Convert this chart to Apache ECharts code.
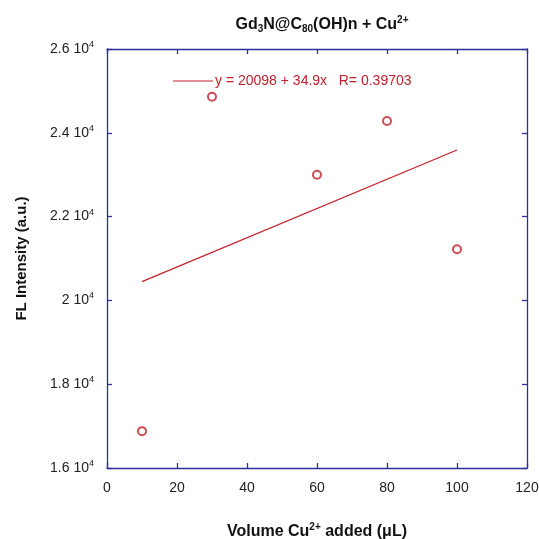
<!DOCTYPE html>
<html>
<head>
<meta charset="utf-8">
<script src="https://cdn.jsdelivr.net/npm/echarts@6/dist/echarts.min.js"></script>
<style>
  html, body { margin: 0; padding: 0; background: #fff; }
  #main { width: 539px; height: 539px; }
</style>
</head>
<body>
<div id="main"></div>
<script>
// measured points
var volume = [10, 30, 60, 80, 100];
var intensity = [16880, 24860, 23000, 24280, 21220];
// fit line end points (as drawn)
var fitX = [10, 100];
var fitY = [20447, 23588];
var fitLabel = 'y = 20098 + 34.9x   R= 0.39703';

var red = '#c4202a';
var blue = '#2e2e9c';

var myChart = echarts.init(document.getElementById('main'));

var axisCommon = {
    axisLine: { show: true, onZero: false, lineStyle: { color: blue, width: 1.3 } },
    axisTick: { show: true, inside: true, length: 5, lineStyle: { color: blue, width: 1.3 } },
    splitLine: { show: false }
};

var option = {
    backgroundColor: '#fff',
    title: {
        text: 'Gd{sub|3}N@C{sub|80}(OH)n + Cu{sup|2+}',
        left: 317,
        textAlign: 'center',
        top: 10,
        textStyle: {
            fontFamily: 'Liberation Sans',
            fontSize: 16,
            fontWeight: 'bold',
            color: '#111',
            rich: {
                sub: { fontSize: 10, fontWeight: 'bold', verticalAlign: 'bottom', padding: [9, 0, 0, 0], fontFamily: 'Liberation Sans' },
                sup: { fontSize: 10, fontWeight: 'bold', verticalAlign: 'top', padding: [0, 0, 9, 0], fontFamily: 'Liberation Sans' }
            }
        }
    },
    legend: {
        left: 168,
        top: 69,
        icon: 'rect',
        itemWidth: 40,
        itemHeight: 1,
        itemGap: 0,
        data: [fitLabel],
        textStyle: { color: red, fontFamily: 'Liberation Sans', fontSize: 14, padding: [0, 0, 0, -3] }
    },
    grid: { left: 107, right: 12, top: 49, bottom: 71, outerBoundsMode: 'none' },
    xAxis: [
        Object.assign({
            type: 'value', min: 0, max: 120, interval: 20,
            name: 'Volume Cu{sup|2+} added (\u03bcL)',
            nameLocation: 'middle',
            nameGap: 54,
            nameTextStyle: {
                fontFamily: 'Liberation Sans', fontSize: 16, fontWeight: 'bold', color: '#111',
                rich: { sup: { fontSize: 10, fontWeight: 'bold', verticalAlign: 'top', padding: [0, 0, 9, 0] } }
            },
            axisLabel: { margin: 13, fontFamily: 'Liberation Sans', fontSize: 14, color: '#222' }
        }, axisCommon),
        Object.assign({
            type: 'value', min: 0, max: 120, interval: 20, position: 'top',
            axisLabel: { show: false }
        }, axisCommon)
    ],
    yAxis: [
        Object.assign({
            type: 'value', min: 16000, max: 26000, interval: 2000,
            name: 'FL Intensity (a.u.)',
            nameLocation: 'middle',
            nameGap: 78,
            nameTextStyle: { fontFamily: 'Liberation Sans', fontSize: 15, fontWeight: 'bold', color: '#111' },
            axisLabel: {
                margin: 13,
                fontFamily: 'Liberation Sans', fontSize: 14, color: '#222',
                formatter: function (v) {
                    return '{a|' + (v / 10000) + ' 10}{s|4}';
                },
                rich: {
                    a: { fontFamily: 'Liberation Sans', fontSize: 14, color: '#222' },
                    s: { fontFamily: 'Liberation Sans', fontSize: 9, color: '#222', verticalAlign: 'top', padding: [0, 0, 9, 0] }
                }
            }
        }, axisCommon),
        Object.assign({
            type: 'value', min: 16000, max: 26000, interval: 2000, position: 'right',
            axisLabel: { show: false }
        }, axisCommon)
    ],
    series: [
        {
            type: 'scatter',
            name: 'data',
            data: volume.map(function (x, i) { return [x, intensity[i]]; }),
            symbol: 'emptyCircle',
            symbolSize: 8,
            itemStyle: { color: red, borderColor: red, borderWidth: 1.5 }
        },
        {
            type: 'line',
            name: fitLabel,
            data: fitX.map(function (x, i) { return [x, fitY[i]]; }),
            showSymbol: false,
            symbol: 'none',
            lineStyle: { color: red, width: 1.2 },
            itemStyle: { color: red }
        }
    ]
};
myChart.setOption(option);
</script>
</body>
</html>
